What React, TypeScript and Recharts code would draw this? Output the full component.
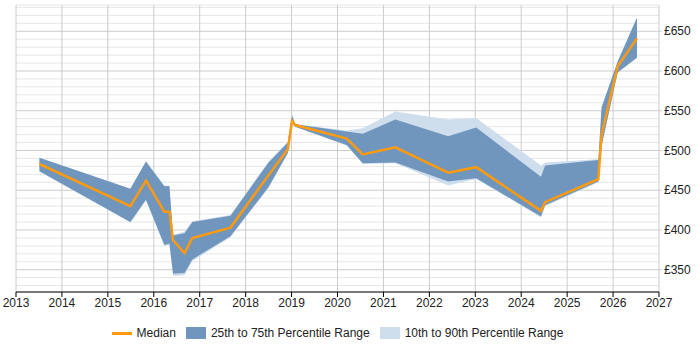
import {
  Area,
  CartesianGrid,
  ComposedChart,
  Line,
  XAxis,
  YAxis,
} from "recharts";

// sample dates (decimal years) and daily rate percentiles in £
const years = [
  2013.51, 2015.49, 2015.83, 2016.23, 2016.34, 2016.42, 2016.67, 2016.84,
  2017.67, 2018.5, 2018.92, 2019.01, 2019.08, 2020.2, 2020.55, 2021.26,
  2022.41, 2023.02, 2024.43, 2024.52, 2025.68, 2025.75, 2026.1, 2026.52,
];
const median = [
  483, 430, 462, 423, 423, 387, 371, 390, 403, 469, 502, 537, 532, 515, 495,
  504, 472, 479, 424, 435, 464, 520, 606, 641,
];
const p25 = [
  474, 410, 438, 381, 383, 345, 346, 363, 392, 454, 497, 534, 530, 507, 484,
  485, 461, 465, 417, 431, 461, 506, 598, 617,
];
const p75 = [
  491, 452, 486, 455, 455, 393, 396, 410, 418, 485, 510, 544, 533, 524, 521,
  539, 518, 529, 467, 481, 488, 554, 612, 667,
];
const p10 = [
  474, 409, 437, 380, 381, 342, 343, 361, 391, 453, 496, 534, 530, 506, 483,
  484, 456, 464, 416, 430, 460, 506, 598, 616,
];
const p90 = [
  491, 452, 486, 456, 456, 394, 398, 411, 419, 486, 511, 546, 533, 525, 528,
  549, 539, 541, 481, 485, 489, 554, 612, 667,
];

const xTicks = [
  2013, 2014, 2015, 2016, 2017, 2018, 2019, 2020, 2021, 2022, 2023, 2024,
  2025, 2026, 2027,
];
// labelled values, and every £10 line of the grid
const yLabels = [350, 400, 450, 500, 550, 600, 650];
const yGrid = [
  330, 340, 350, 360, 370, 380, 390, 400, 410, 420, 430, 440, 450, 460, 470,
  480, 490, 500, 510, 520, 530, 540, 550, 560, 570, 580, 590, 600, 610, 620,
  630, 640, 650, 660, 670, 680,
];

const data = years.map((year, i) => ({
  year,
  median: median[i],
  inner: [p25[i], p75[i]],
  outer: [p10[i], p90[i]],
}));

const FONT = '"Liberation Sans", Arial, sans-serif';
const DARK = "#7096be";
const LIGHT = "#cfdeed";
const ORANGE = "#ff9a0e";
const TEXT = "#222";
const MAJOR = "#cccccc";
const MINOR = "#e6e6e6";
const yDomain = [322, 683];

function LegendRow() {
  const text = { fontSize: 12, color: TEXT, marginRight: 10 };
  return (
    <div
      style={{
        position: "absolute",
        left: 16,
        top: 326,
        width: 643,
        display: "flex",
        justifyContent: "center",
        alignItems: "center",
        fontFamily: FONT,
      }}
    >
      <span style={{ width: 20, height: 3, background: ORANGE, marginRight: 5 }} />
      <span style={text}>Median</span>
      <span style={{ width: 20, height: 12, background: DARK, marginRight: 5 }} />
      <span style={text}>25th to 75th Percentile Range</span>
      <span style={{ width: 20, height: 12, background: LIGHT, marginRight: 5 }} />
      <span style={{ ...text, marginRight: 0 }}>10th to 90th Percentile Range</span>
    </div>
  );
}

// £50 lines darker than the £10 ones
function GridLine(props: any) {
  const value = yGrid[props.index];
  const major = yLabels.includes(value);
  return (
    <line
      key={props.key}
      x1={props.x1}
      x2={props.x2}
      y1={props.y1}
      y2={props.y2}
      stroke={major ? MAJOR : MINOR}
      strokeWidth={1}
    />
  );
}

function PriceTick(props: any) {
  const { x, y, payload } = props;
  if (!yLabels.includes(payload.value)) return null;
  return (
    <g>
      <line x1={x - 5} x2={x - 2} y1={y} y2={y} stroke={MAJOR} />
      <text x={x} y={y} dy="0.355em" fill={TEXT} fontSize={12} textAnchor="start">
        £{payload.value}
      </text>
    </g>
  );
}

export default function App() {
  return (
    <div style={{ position: "absolute", left: 0, top: 0, width: 700, height: 350 }}>
      <ComposedChart
        width={700}
        height={322}
        data={data}
        margin={{ top: 5, right: 0, left: 16, bottom: 0 }}
        style={{ fontFamily: FONT }}
      >
        <CartesianGrid stroke={MAJOR} horizontal={GridLine} />
        <XAxis
          dataKey="year"
          type="number"
          domain={[2013, 2027]}
          ticks={xTicks}
          allowDataOverflow
          height={30}
          tickSize={5}
          tickMargin={1}
          stroke="#000"
          tick={{ fill: TEXT, fontSize: 12 }}
        />
        <YAxis
          orientation="right"
          type="number"
          domain={yDomain}
          ticks={yGrid}
          interval={0}
          allowDataOverflow
          width={41}
          axisLine={false}
          tickLine={false}
          tickSize={0}
          tickMargin={5}
          tick={<PriceTick />}
        />
        <Area
          type="linear"
          dataKey="outer"
          stroke="none"
          fill={LIGHT}
          fillOpacity={1}
          isAnimationActive={false}
        />
        <Area
          type="linear"
          dataKey="inner"
          stroke="none"
          fill={DARK}
          fillOpacity={1}
          isAnimationActive={false}
        />
        <Line
          type="linear"
          dataKey="median"
          stroke={ORANGE}
          strokeWidth={2.5}
          dot={false}
          isAnimationActive={false}
        />
      </ComposedChart>
      <LegendRow />
    </div>
  );
}
